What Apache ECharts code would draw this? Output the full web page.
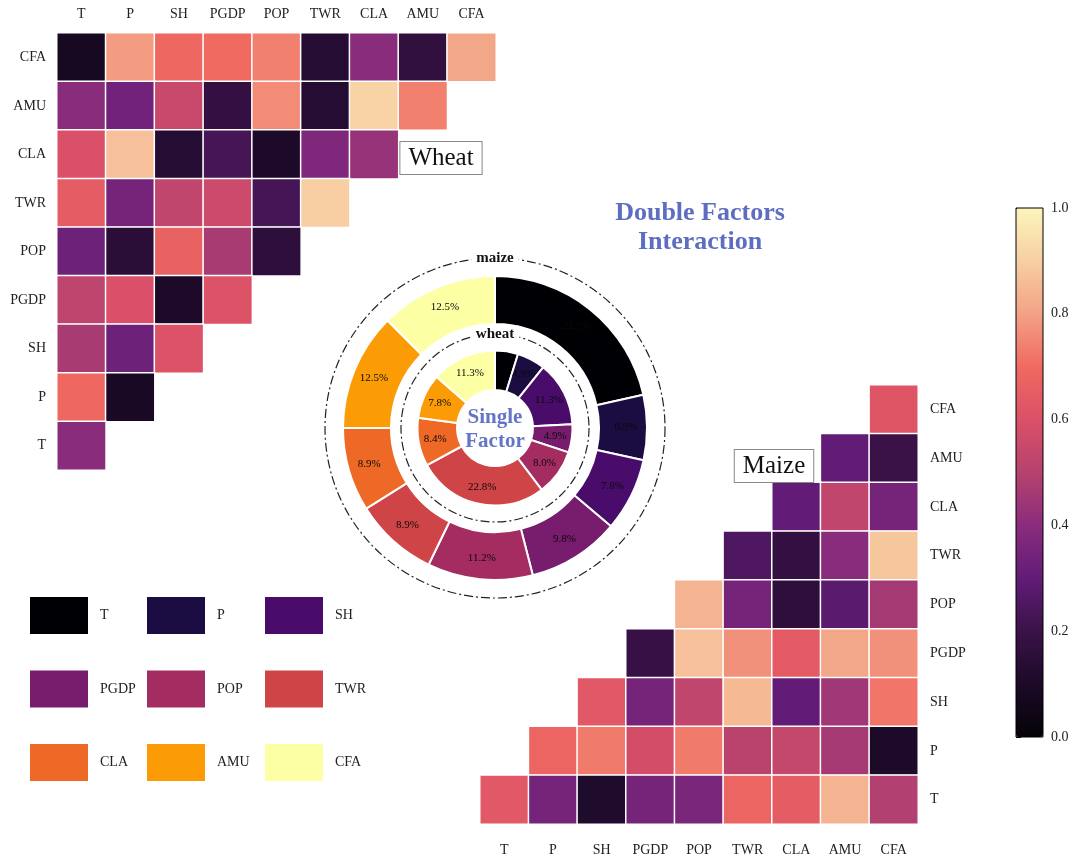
<!DOCTYPE html>
<html><head><meta charset="utf-8">
<script src="https://cdn.jsdelivr.net/npm/echarts@6/dist/echarts.min.js"></script>
<style>html,body{margin:0;padding:0;background:#fff}#main{width:1080px;height:867px}</style>
</head><body><div id="main"></div>
<script>
// ---------- data ----------
const factors = ['T','P','SH','PGDP','POP','TWR','CLA','AMU','CFA'];
const colorbarTicks = [0, 0.2, 0.4, 0.6, 0.8, 1.0];

// Wheat (upper-left triangle) rows from top (CFA) to bottom (T), columns start at T
const wheatCFA  = [0.08,0.79,0.69,0.70,0.74,0.13,0.40,0.17,0.81];
const wheatAMU  = [0.40,0.34,0.55,0.18,0.76,0.13,0.91,0.74];
const wheatCLA  = [0.60,0.87,0.13,0.23,0.10,0.37,0.43];
const wheatTWR  = [0.65,0.35,0.53,0.56,0.23,0.90];
const wheatPOP  = [0.33,0.15,0.67,0.47,0.16];
const wheatPGDP = [0.52,0.60,0.10,0.61];
const wheatSH   = [0.47,0.33,0.61];
const wheatP    = [0.69,0.09];
const wheatT    = [0.40];

// Maize (lower-right triangle) rows from top (CFA) to bottom (T), columns end at CFA
const maizeCFA  = [0.62];
const maizeAMU  = [0.30,0.20];
const maizeCLA  = [0.30,0.53,0.35];
const maizeTWR  = [0.25,0.18,0.40,0.88];
const maizePOP  = [0.84,0.35,0.16,0.28,0.46];
const maizePGDP = [0.19,0.87,0.77,0.64,0.81,0.77];
const maizeSH   = [0.63,0.35,0.53,0.85,0.30,0.45,0.72];
const maizeP    = [0.68,0.73,0.58,0.73,0.51,0.54,0.46,0.10];
const maizeT    = [0.63,0.35,0.11,0.35,0.36,0.68,0.65,0.84,0.49];

// Single factor shares (%)
const maizeShare = [21.5, 6.9, 7.8, 9.8, 11.2, 8.9, 8.9, 12.5, 12.5];
const wheatShare = [4.0, 4.9, 11.3, 4.9, 8.0, 22.8, 8.4, 7.8, 11.3];

// ---------- styles ----------
const heatColors = ['#050308','#1c0a28','#3a1248','#621c78','#8a2c7c','#b6426f','#da5068','#f06a60','#f3a286','#f7cfa2','#fcf5bb'];
const inferno = ['#000004','#1b0c41','#4a0c6b','#781c6d','#a52c60','#cf4446','#ed6925','#fb9b06','#fcffa4'];
const FONT = '"Liberation Serif","DejaVu Serif",serif';
const cx = 495, cy = 428;

const wheatRows = [wheatCFA,wheatAMU,wheatCLA,wheatTWR,wheatPOP,wheatPGDP,wheatSH,wheatP,wheatT];
const maizeRows = [maizeCFA,maizeAMU,maizeCLA,maizeTWR,maizePOP,maizePGDP,maizeSH,maizeP,maizeT];
const wheatData = [], maizeData = [];
wheatRows.forEach((row, r) => row.forEach((v, c) => wheatData.push([c, 8 - r, v])));
maizeRows.forEach((row, r) => row.forEach((v, k) => maizeData.push([8 - r + k, 8 - r, v])));

const pieData = arr => arr.map((v, i) => ({ name: factors[i], value: v, itemStyle: { color: inferno[i] } }));

const catAxisLabel = { fontFamily: FONT, fontSize: 14, color: '#222' };
const pieLabel = { show: true, position: 'inside', formatter: p => p.value.toFixed(1) + '%', fontFamily: FONT, fontSize: 11, color: '#0a0a0a' };

const option = {
  backgroundColor: '#fff',
  animation: false,
  grid: [
    { left: 57, top: 33, width: 439, height: 437 },
    { left: 480, top: 385, width: 438, height: 439 },
    { left: 1016, top: 208, width: 27, height: 529, show: true, borderColor: '#000', borderWidth: 1, backgroundColor: 'transparent', z: 10 }
  ],
  xAxis: [
    { gridIndex: 0, type: 'category', data: factors, position: 'top', axisLine: { show: false }, axisTick: { show: false }, axisLabel: Object.assign({ margin: 12 }, catAxisLabel), splitLine: { show: false } },
    { gridIndex: 1, type: 'category', data: factors, position: 'bottom', axisLine: { show: false }, axisTick: { show: false }, axisLabel: Object.assign({ margin: 19 }, catAxisLabel), splitLine: { show: false } },
    { gridIndex: 2, type: 'value', show: false, min: 0, max: 1 }
  ],
  yAxis: [
    { gridIndex: 0, type: 'category', data: factors, position: 'left', axisLine: { show: false }, axisTick: { show: false }, axisLabel: Object.assign({ margin: 11 }, catAxisLabel), splitLine: { show: false } },
    { gridIndex: 1, type: 'category', data: factors, position: 'right', axisLine: { show: false }, axisTick: { show: false }, axisLabel: Object.assign({ margin: 12 }, catAxisLabel), splitLine: { show: false } },
    { gridIndex: 2, type: 'value', min: colorbarTicks[0], max: colorbarTicks[colorbarTicks.length - 1], interval: 0.2, position: 'right',
      axisLine: { show: false }, axisTick: { show: true, length: 5, lineStyle: { color: '#000' } },
      axisLabel: Object.assign({ margin: 8, formatter: v => v.toFixed(1) }, catAxisLabel), splitLine: { show: false } }
  ],
  visualMap: {
    type: 'continuous', min: 0, max: 1, seriesIndex: [0, 1], dimension: 2,
    calculable: false, hoverLink: false, show: true, text: null, showLabel: false,
    left: 1016, top: 208, itemWidth: 27, itemHeight: 529, padding: 0,
    inRange: { color: heatColors }
  },
  legend: [
    { data: [factors[0], factors[3], factors[6]], left: 28, top: 595 },
    { data: [factors[1], factors[4], factors[7]], left: 145, top: 595 },
    { data: [factors[2], factors[5], factors[8]], left: 263, top: 595 }
  ].map(l => Object.assign({ orient: 'vertical', icon: 'rect', itemWidth: 60, itemHeight: 39, itemGap: 32.5, itemTextGap: 12, selectedMode: false, padding: 0,
      textStyle: { fontFamily: FONT, fontSize: 14, color: '#222', padding: [0, 0, 0, 6] } }, l)),
  series: [
    { type: 'heatmap', xAxisIndex: 0, yAxisIndex: 0, data: wheatData, itemStyle: { borderColor: '#fff', borderWidth: 1.5 }, emphasis: { disabled: true } },
    { type: 'heatmap', xAxisIndex: 1, yAxisIndex: 1, data: maizeData, itemStyle: { borderColor: '#fff', borderWidth: 1.5 }, emphasis: { disabled: true } },
    { type: 'pie', name: 'maize', center: [cx, cy], radius: [104, 152], startAngle: 90, clockwise: true, data: pieData(maizeShare),
      itemStyle: { borderColor: '#fff', borderWidth: 2 }, label: pieLabel,
      labelLine: { show: false }, emphasis: { disabled: true }, silent: true },
    { type: 'pie', name: 'wheat', center: [cx, cy], radius: [38, 77.5], startAngle: 90, clockwise: true, data: pieData(wheatShare),
      itemStyle: { borderColor: '#fff', borderWidth: 2 }, label: pieLabel,
      labelLine: { show: false }, emphasis: { disabled: true }, silent: true }
  ],
  graphic: [
    { type: 'circle', silent: true, z: 1, shape: { cx: cx, cy: cy, r: 170 }, style: { fill: 'none', stroke: '#222', lineWidth: 1.2, lineDash: [9, 3, 2, 3] } },
    { type: 'circle', silent: true, z: 1, shape: { cx: cx, cy: cy, r: 94 }, style: { fill: 'none', stroke: '#222', lineWidth: 1.2, lineDash: [9, 3, 2, 3] } },
    { type: 'text', silent: true, z: 20, x: cx, y: cy - 170, style: { text: 'maize', font: 'bold 15px ' + FONT, fill: '#111', align: 'center', verticalAlign: 'middle', backgroundColor: '#fff', padding: [1, 5] } },
    { type: 'text', silent: true, z: 20, x: cx, y: cy - 94, style: { text: 'wheat', font: 'bold 15px ' + FONT, fill: '#111', align: 'center', verticalAlign: 'middle', backgroundColor: '#fff', padding: [1, 5] } },
    { type: 'text', silent: true, z: 20, x: cx, y: cy + 2, style: { text: 'Single\nFactor', font: 'bold 21px ' + FONT, fill: '#6474c6', align: 'center', verticalAlign: 'middle', lineHeight: 24 } },
    { type: 'text', silent: true, z: 20, x: 700, y: 228, style: { text: 'Double Factors\nInteraction', font: 'bold 26px ' + FONT, fill: '#5d6dc2', align: 'center', verticalAlign: 'middle', lineHeight: 29 } },
    { type: 'text', silent: true, z: 20, x: 441, y: 158, style: { text: 'Wheat', font: '25px ' + FONT, fill: '#111', align: 'center', verticalAlign: 'middle', backgroundColor: '#fff', borderColor: '#888', borderWidth: 1, padding: [4, 8, 3, 8] } },
    { type: 'text', silent: true, z: 20, x: 774, y: 466, style: { text: 'Maize', font: '25px ' + FONT, fill: '#111', align: 'center', verticalAlign: 'middle', backgroundColor: '#fff', borderColor: '#888', borderWidth: 1, padding: [4, 8, 3, 8] } }
  ]
};

const chart = echarts.init(document.getElementById('main'), null, { renderer: 'canvas' });
chart.setOption(option);
</script>
</body></html>
